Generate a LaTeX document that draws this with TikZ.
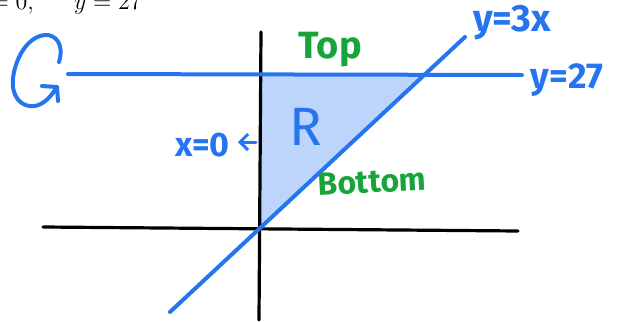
\documentclass[tikz,border=0pt]{standalone}
\usepackage{fontspec}
\newfontfamily\hand{Fira Sans}
\usetikzlibrary{arrows.meta}
\definecolor{pblue}{HTML}{2574F0}
\definecolor{pgreen}{HTML}{17A43A}
\definecolor{pfill}{HTML}{BDD5FA}
\begin{document}
\begin{tikzpicture}[x=0.5pt,y=-0.5pt,
  axis/.style={line width=1.6pt,black,line cap=round},
  bline/.style={line width=2pt,pblue,line cap=round,line join=round},
  blab/.style={text=pblue,inner sep=0pt},
  glab/.style={text=pgreen,inner sep=0pt}]
\useasboundingbox (0,0) rectangle (618,322);
\clip (0,0) rectangle (618,322);
% cropped heading
\node[anchor=base east,inner sep=0pt,font=\fontsize{11.5}{14}\selectfont] (hdr) at (142,9) {$x = 0,\quad\;\; y = 27$};
% region
\coordinate (o) at (260,229);
\coordinate (a) at (262,74);
\coordinate (b) at (424,74);
\fill[pfill] (o) -- (a) -- (b) -- cycle;
% axes
\coordinate (vt) at (261,32);
\coordinate (vb) at (259,320);
\coordinate (hl) at (43,227);
\coordinate (hr) at (518,231);
\draw[axis] (vt) -- (vb);
\draw[axis] (hl) -- (hr);
% lines
\coordinate (l1) at (68,74);
\coordinate (l2) at (522,75);
\draw[bline] (l1) -- (l2);
\coordinate (m1) at (170,312);
\coordinate (m2) at (465,37);
\draw[bline] (m1) -- (m2);
% circular arrow
\coordinate (c0) at (59,62);
\coordinate (c1) at (57,87);
\draw[bline] (c0) .. controls (63,50) and (60,37) .. (48,35)
  .. controls (30,34) and (16,55) .. (13,78)
  .. controls (11,95) and (20,108) .. (35,106)
  .. controls (45,104) and (52,95) .. (c1);
\coordinate (h1) at (42,86);
\coordinate (h2) at (58,101);
\draw[bline] (h1) -- (c1) -- (h2);
% x=0 arrow
\coordinate (xa) at (256,142);
\coordinate (xb) at (238,142);
\draw[line width=1.5pt,pblue,line cap=round,-{Straight Barb[length=4pt,width=8pt]}] (xa) -- (xb);
% labels
\node[glab,font=\hand\bfseries\fontsize{19}{22}\selectfont] (top) at (330,50) {Top};
\node[glab,font=\hand\bfseries\fontsize{16}{19}\selectfont,rotate=3] (bot) at (372,182) {Bottom};
\node[font=\hand\fontsize{27}{30}\selectfont,text=pblue,inner sep=0pt] (R) at (306,127) {R};
\node[blab,font=\hand\bfseries\fontsize{17}{20}\selectfont,anchor=east] (x0) at (230,145) {x=0};
\node[blab,font=\hand\bfseries\fontsize{19}{22}\selectfont] (y3x) at (512,23) {y=3x};
\node[blab,font=\hand\bfseries\fontsize{18}{21}\selectfont] (y27) at (567,80) {y=27};
\end{tikzpicture}
\end{document}
